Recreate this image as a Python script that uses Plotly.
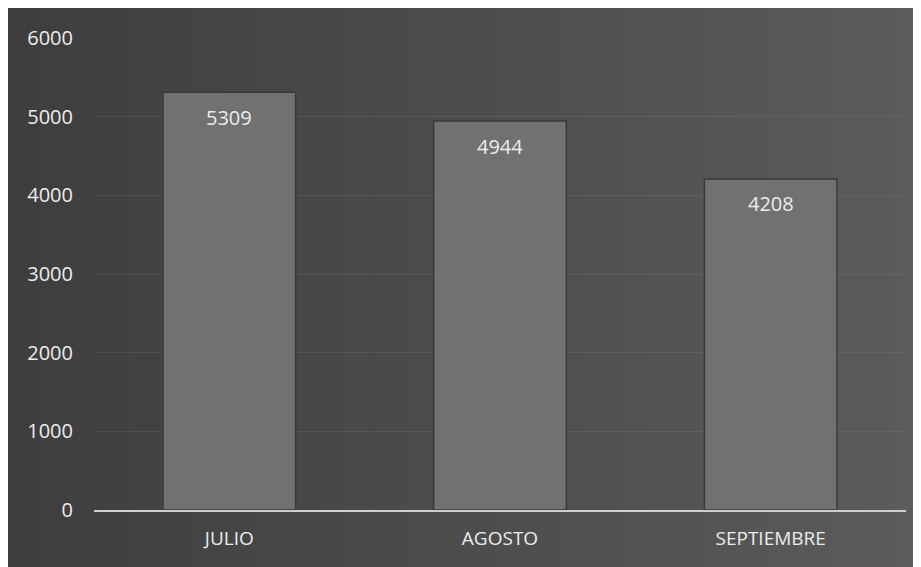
import plotly.graph_objects as go

categories = ["JULIO", "AGOSTO", "SEPTIEMBRE"]
values = [5309, 4944, 4208]
y_ticks = [0, 1000, 2000, 3000, 4000, 5000, 6000]

# the page adds an 8px white margin around the figure
W, H = 913, 559
ml, mr, mt, mb = 86, 15, 30, 57

fig = go.Figure()

fig.add_trace(go.Bar(
    x=categories, y=values,
    marker=dict(color="#717171", line=dict(color="#3a3a3a", width=1.5)),
    hoverinfo="x+y",
))

# value labels near the top of each bar
for c, v in zip(categories, values):
    fig.add_annotation(x=c, y=v, text=str(v), showarrow=False, yshift=-25,
                       font=dict(family="Open Sans", size=20, color="#ececec"))

# dark panel with a horizontal gradient (background styling)
pw = W - ml - mr
ph = H - mt - mb
shapes = []
n = 30
for i in range(n):
    t = i / (n - 1)
    r = int(62 + (92 - 62) * t)
    col = f"rgb({r},{r},{r})"
    a = W * i / n
    b = W * (i + 1) / n + 1
    shapes.append(dict(type="rect", xref="paper", yref="paper",
                       x0=(a - ml) / pw, x1=(b - ml) / pw,
                       y0=-(mb + 2) / ph, y1=1 + (mt + 2) / ph,
                       fillcolor=col, line=dict(width=0), layer="below"))

fig.update_layout(
    width=W, height=H,
    margin=dict(l=ml, r=mr, t=mt, b=mb),
    paper_bgcolor="#4a4a4a",
    plot_bgcolor="rgba(0,0,0,0)",
    bargap=0.51,
    showlegend=False,
    shapes=shapes,
    font=dict(family="Open Sans", size=20, color="#ececec"),
)
fig.update_yaxes(range=[0, 6000], tickvals=y_ticks, showgrid=True,
                 gridcolor="rgba(255,255,255,0.07)", gridwidth=1,
                 zeroline=False, showline=False, ticks="",
                 ticklabelstandoff=20,
                 tickfont=dict(family="Open Sans", size=20, color="#ececec"))
fig.update_xaxes(showline=True, linecolor="#cfcfcf", linewidth=2,
                 ticks="", showgrid=False, ticklabelstandoff=10,
                 tickfont=dict(family="Open Sans", size=19, color="#ececec"))

fig.write_html("out.html")
